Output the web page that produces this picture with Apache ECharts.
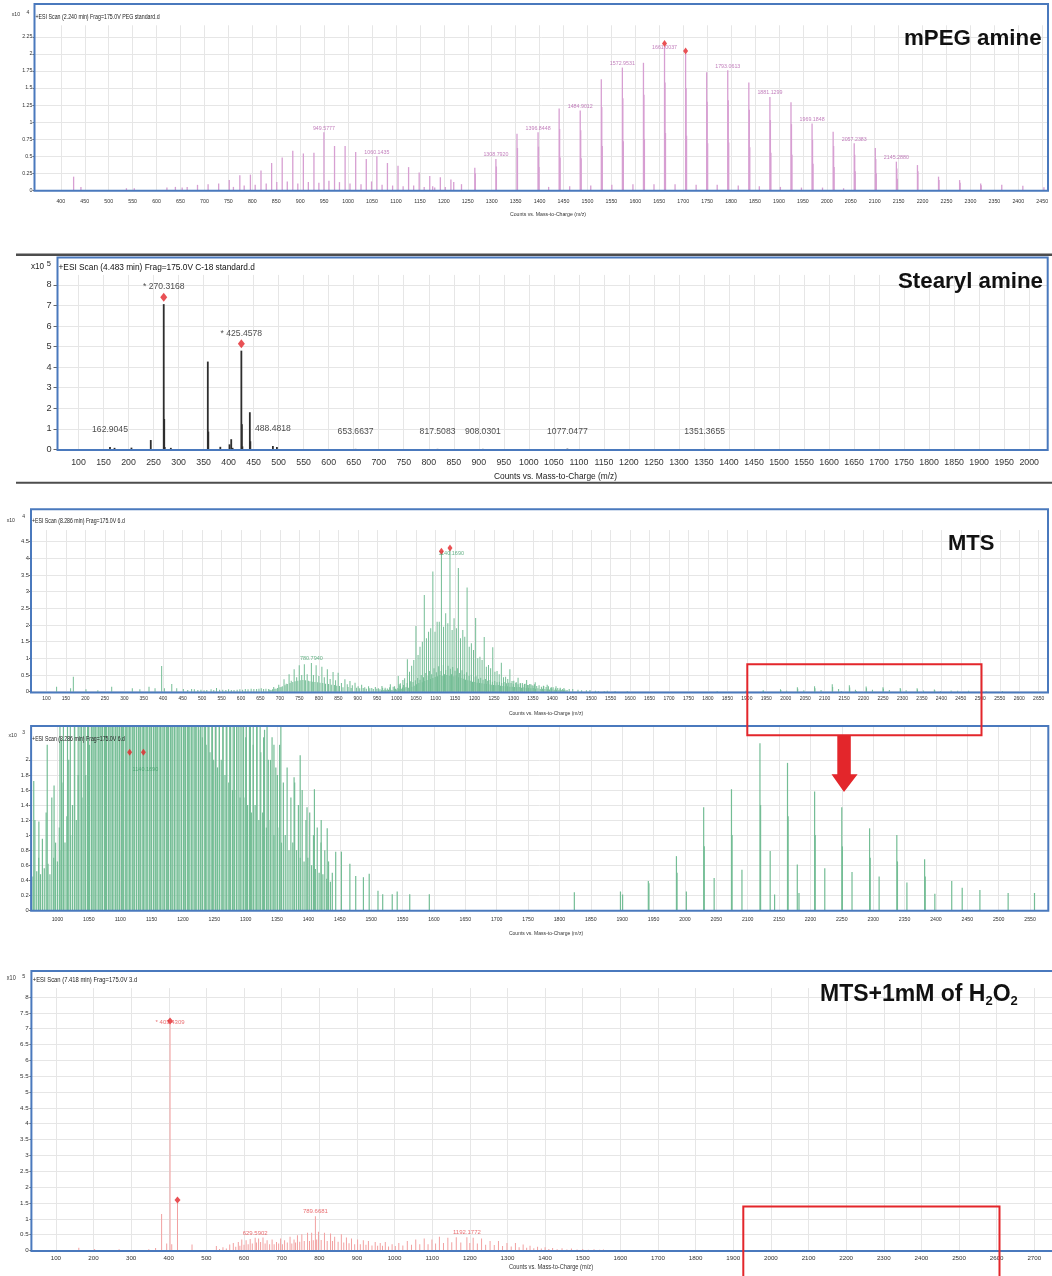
<!DOCTYPE html>
<html>
<head>
<meta charset="utf-8">
<script src="https://cdn.jsdelivr.net/npm/echarts@6.0.0/dist/echarts.min.js"></script>
<style>
html,body{margin:0;padding:0;background:#ffffff;}
#chart{width:1052px;height:1276px;}
</style>
</head>
<body>
<div id="chart"></div>
<script>
/* ===================== DATA ===================== */
/* ---- Panel 1 : mPEG amine (counts) ---- */
const p1XTicks = [400,450,500,550,600,650,700,750,800,850,900,950,1000,1050,1100,1150,1200,1250,1300,1350,1400,1450,1500,1550,1600,1650,1700,1750,1800,1850,1900,1950,2000,2050,2100,2150,2200,2250,2300,2350,2400,2450];
const p1YTicks = [0,0.25,0.5,0.75,1,1.25,1.5,1.75,2,2.25];
const p1Doubly = [[426.7,2000],[442.0,500],[537.0,300],[553.4,300],[621.6,400],[639.3,500],[653.4,400],[663.9,500],[685.5,800],[707.6,900],[729.7,1000],[751.8,1500],[773.9,2200],[796.0,2300],[818.1,2900],[840.3,4000],[862.4,4800],[884.5,5800],[906.6,5400],[928.7,5500],[949.58,8500],[971.7,6500],[993.8,6500],[1015.9,5600],[1038.0,4600],[1060.14,5000],[1082.2,4000],[1104.3,3600],[1126.4,3400],[1148.5,2600],[1170.6,2100],[1192.7,1900],[1214.8,1600],[1236.9,900]];
const p1Minor = [[760.5,500],[783.0,700],[806.0,800],[829.0,1000],[851.0,1200],[873.0,1300],[895.0,1000],[917.0,1200],[939.0,1100],[960.0,1400],[982.0,1200],[1004.0,1000],[1027.0,900],[1049.0,1300],[1071.0,800],[1093.0,700],[1115.0,600],[1137.0,700],[1159.0,500],[1181.0,400],[1203.0,500],[1418.9,500],[1462.9,600],[1506.9,700],[1550.9,800],[1595.0,900],[1639.0,900],[1683.0,900],[1727.0,800],[1771.0,800],[1815.0,700],[1859.0,600],[1903.0,500],[1947.0,400],[1991.0,400],[2035.0,300]];
const p1Singly = [[1176.7,600],[1220.7,1200],[1264.74,3300],[1308.79,4600],[1352.82,8300],[1396.84,8500],[1440.87,12000],[1484.90,11700],[1528.93,16300],[1572.95,18000],[1616.98,18700],[1661.00,21100],[1705.03,20000],[1749.06,17300],[1793.06,17600],[1837.10,15800],[1881.13,13700],[1925.16,12900],[1969.18,9800],[2013.21,8600],[2057.24,6900],[2101.26,6200],[2145.29,4200],[2189.31,3700],[2233.34,2000],[2277.37,1500],[2321.39,1000],[2365.42,800],[2409.45,650],[2453.47,450]];
const p1Iso1 = [[1265.74,2500],[1309.79,3500],[1353.82,6200],[1397.84,6400],[1441.87,9000],[1485.90,8800],[1529.93,12200],[1573.95,13500],[1617.98,14000],[1662.00,15800],[1706.03,15000],[1750.06,13000],[1794.06,13200],[1838.10,11800],[1882.13,10300],[1926.16,9700],[1970.18,7400],[2014.21,6500],[2058.24,5200],[2102.26,4600],[2146.29,3200],[2190.31,2800],[2234.34,1500],[2278.37,1100],[2322.39,750]];
const p1Iso2 = [[1398.84,3400],[1442.87,4800],[1486.90,4700],[1530.93,6500],[1574.95,7200],[1618.98,7500],[1663.00,8400],[1707.03,8000],[1751.06,6900],[1795.06,7000],[1839.10,6300],[1883.13,5500],[1927.16,5200],[1971.18,3900],[2015.21,3400],[2059.24,2800],[2103.26,2500],[2147.29,1700]];
const p1Labels = [[949.5777,8500,'949.5777'],[1060.1435,5000,'1060.1435'],[1308.7920,4600,'1308.7920'],[1396.8448,8500,'1396.8448'],[1484.9012,11700,'1484.9012'],[1572.9531,18000,'1572.9531'],[1661.0037,21100,'1661.0037'],[1793.0613,17600,'1793.0613'],[1881.1299,13700,'1881.1299'],[1969.1848,9800,'1969.1848'],[2057.2383,6900,'2057.2383'],[2145.2880,4200,'2145.2880']];
const p1Marks = [[1661.0037,21100],[1705.03,20000]];

/* ---- Panel 2 : Stearyl amine (counts) ---- */
const p2XTicks = [100,150,200,250,300,350,400,450,500,550,600,650,700,750,800,850,900,950,1000,1050,1100,1150,1200,1250,1300,1350,1400,1450,1500,1550,1600,1650,1700,1750,1800,1850,1900,1950,2000];
const p2YTicks = [0,1,2,3,4,5,6,7,8];
const p2Peaks = [[162.9,12000],[172.0,8000],[205.8,9000],[244.4,46000],[270.32,706000],[271.32,148000],[272.3,12000],[284.5,8000],[358.4,427000],[359.4,87000],[383.4,13000],[401.8,25000],[405.2,50000],[408.0,8000],[425.46,480000],[426.46,123000],[427.5,15000],[442.4,181000],[443.4,40000],[488.48,17000],[496.5,12000],[653.66,3000],[817.51,3000],[908.03,3000],[1077.05,4000],[1351.37,3000]];
const p2Labels = [[270.3168,706000,'* 270.3168'],[425.4578,480000,'* 425.4578'],[162.9045,12000,'162.9045'],[488.4818,17000,'488.4818'],[653.6637,3000,'653.6637'],[817.5083,3000,'817.5083'],[908.0301,3000,'908.0301'],[1077.0477,4000,'1077.0477'],[1351.3655,3000,'1351.3655']];
const p2Marks = [[270.3168,706000],[425.4578,480000]];

/* ---- Panels 3 & 4 : MTS (same spectrum, two zoom levels; counts) ---- */
const p3XTicks = [100,150,200,250,300,350,400,450,500,550,600,650,700,750,800,850,900,950,1000,1050,1100,1150,1200,1250,1300,1350,1400,1450,1500,1550,1600,1650,1700,1750,1800,1850,1900,1950,2000,2050,2100,2150,2200,2250,2300,2350,2400,2450,2500,2550,2600,2650];
const p3YTicks = [0,0.5,1,1.5,2,2.5,3,3.5,4,4.5];
const p4XTicks = [1000,1050,1100,1150,1200,1250,1300,1350,1400,1450,1500,1550,1600,1650,1700,1750,1800,1850,1900,1950,2000,2050,2100,2150,2200,2250,2300,2350,2400,2450,2500,2550];
const p4YTicks = [0,0.2,0.4,0.6,0.8,1,1.2,1.4,1.6,1.8,2];
const mtsLow = [[126,1500],[162,1000],[169,4500],[201.5,700],[232,400],[267.6,1500],[320.6,1000],[340,700],[363.5,1500],[379,1000],[396,7700],[403,1000],[422,2300],[434.7,1000],[451.7,800],[463,500],[473,800],[480,700],[489,500],[497,600],[505,400],[512,500],[523,700],[530,500],[537,1100],[545,600],[553,600],[561,500],[568,700],[575,500],[582,500],[590,600],[597,700],[604,600],[611,800],[618,700],[626,900],[633,800],[640,800],[646,900],[652,1000],[658,800],[664,900]];
const mtsHump = [[671,800],[684,1400],[697,2100],[710.5,3700],[723.5,5200],[736.5,6700],[749.6,7900],[762.7,8200],[780.79,8600],[793,7900],[807.8,7500],[821.8,6700],[836.5,5900],[849.6,5700],[867,3700],[880,3200],[893,2700],[910,2100],[927.8,1600],[945.2,1400],[962.2,1720],[970.4,1180],[983.7,2200],[994.6,1660],[1006.4,2270]];
const mtsHumpMinor = [[677,500],[690,900],[703,1400],[716,2400],[729,3300],[743,4300],[756,5000],[770,5200],[786,5000],[800,4700],[814,4300],[829,3800],[843,3400],[858,2600],[873,2200],[886,1900],[901,1600],[918,1300],[936,1100],[953,1000],[862,1300],[875,1400],[883,1100],[897,1200],[905,1000],[914,1100],[922,900],[931,1000],[940,800],[949,900],[957,700]];
const mtsHumpFill = [[674,600],[681,700],[687,900],[694,1100],[700,1300],[706,1600],[713,1900],[719,2300],[726,2600],[733,2900],[739,3100],[746,3300],[752,3400],[759,3500],[766,3400],[773,3300],[777,3100],[783,3000],[790,2900],[797,2800],[803,2700],[810,2600],[817,2400],[825,2300],[832,2100],[840,2000],[846,1800],[853,1700]];
const mtsGrass = [[961,450],[964,1200],[967,520],[970,700],[973,480],[976,950],[979,560],[982,1300],[985,620],[988,480],[991,1500],[994,700],[997,900],[1000,650],
[1003,1100],[1006,800],[1009,1700],[1012,900],[1015,1250],[1018,2000],[1021,1000],[1024,1400],[1027,2600],[1030,1200],[1033,1800],[1036,3100],[1039,1500],
[1042,2900],[1045,1800],[1048,3400],[1051,2200],[1054,4100],[1057,2600],[1060,3600],[1063,5000],[1066,2800],[1069,4300],[1072,3200],[1075,5600],[1078,3500],[1081,4800],
[1084,6200],[1087,3800],[1090,5200],[1093,4100],[1096,7000],[1099,4400],[1102,5800],[1105,4600],[1108,7600],[1111,5000],[1114,6200],[1117,4800],[1120,8000],[1123,5200],
[1126,6500],[1129,5000],[1132,7800],[1135,4800],[1138,6900],[1141,5200],[1144,7400],[1147,4600],[1150,6300],[1153,4900],[1156,7000],[1159,4300],[1162,5600],[1165,4100],
[1168,6400],[1171,3900],[1174,5200],[1177,3600],[1180,5800],[1183,3400],[1186,4700],[1189,3300],[1192,5100],[1195,3000],[1198,4300],[1201,2900],[1204,4600],[1207,2700],
[1210,3900],[1213,2600],[1216,4200],[1219,2500],[1222,3600],[1225,2400],[1228,3800],[1231,2300],[1234,3300],[1237,2200],[1240,3500],[1243,2100],[1246,3000],[1249,2000],
[1252,3200],[1255,1900],[1258,2800],[1261,2000],[1264,3000],[1267,1800],[1270,2600],[1273,1700],[1276,2900],[1279,1600],[1282,2500],[1285,1600],[1288,2700],[1291,1500],
[1294,2600],[1297,1500],[1300,2300],[1303,1400],[1306,2700],[1309,1300],[1312,2200],[1315,1400],[1318,2500],[1321,1200],[1324,2100],[1327,1300],[1330,2400],[1333,1100],
[1336,2000],[1339,1200],[1342,2300],[1345,1000],[1348,1900],[1351,1100],[1354,2200],[1357,900],[1360,1700],[1363,1000],[1366,1900],[1369,800],[1372,1500],[1375,900],
[1378,1700],[1381,800],[1384,1400],[1387,700],[1390,1600],[1393,650],[1396,1200],[1399,700],[1402,1300],[1405,600],[1408,1000],[1411,550],[1414,1100],[1417,500],
[1420,900],[1423,480],[1426,800],[1429,420],[1432,650],[1435,380],[1438,500]];
const mtsThird = [[1009.5,2500],[1020.5,4000],[1033,6000],[1044,9500],[1055,11000],[1066,15000],[1076.5,16000],[1087.5,19000],[1098.5,18000],[1109.5,21000],[1120.5,19500],[1131.5,20500],[1142.5,18500],[1153.5,19000],[1164,16000],[1175,16500],[1186.5,13500],[1197.5,12500],[1208.5,10000],[1219.5,9500],[1230.5,7500],[1241.5,7000],[1252.5,6000],[1263.5,5200],[1274.5,4300],[1285.5,3800],[1296.5,3200],[1307.5,2800],[1317.5,2500],[1328.5,2300],[1339.5,2000],[1350.5,1800]];
const mtsSecond = [[1016,3500],[1038.5,7800],[1060,13500],[1082,18000],[1104,21000],[1126,23500],[1147.5,22000],[1170,18500],[1192,14500],[1214,10500],[1236,8000],[1258,6200],[1280,4500],[1301,3300],[1323,2600],[1345,2200]];
const mtsMajor = [[1004,4700],[1027.5,9700],[1049.5,19700],[1071,29000],[1093,36100],[1115,41700],[1137,42700],[1158.5,37100],[1181,31300],[1203,22100],[1225,16400],[1247,13300],[1269,8700],[1291,6700],[1312,4200],[1334,3500],[1356,2800]];
const mtsHigh = [[1377.1,1770],[1386.8,2060],[1397.7,1370],[1409.5,1610],[1420.3,1200],[1429.9,1090],[1443.4,780],[1452.5,780],[1466,620],[1475.3,455],[1487.6,440],[1496.8,485],[1510.8,260],[1518.3,215],[1533.5,215],[1541.4,250],[1561.4,215],[1592.6,215]];
const mtsTail = [[1823.7,240],[1897.2,250],[1900.6,210],[1941.6,390],[1942.6,360],[1986.4,720],[1987.4,500],[2002.2,250],[2029.8,1370],[2030.8,850],[2046.5,430],[2074.1,1610],[2075.1,1000],[2090.8,540],[2119.5,2220],[2120.5,1400],[2135.8,790],[2142.8,210],[2163.4,1960],[2164.4,1250],[2179,610],[2181.7,230],[2206.6,1580],[2207.6,1000],[2222.8,560],[2249.9,1370],[2250.9,850],[2266.2,510],[2294.2,1090],[2295.2,700],[2309.4,450],[2337.6,1000],[2338.6,650],[2353.7,370],[2381.9,680],[2382.9,450],[2398.2,220],[2425.1,390],[2441.8,300],[2470,270],[2515,230],[2557,230]];
const p3Labels = [[780.794,8600,'780.7940'],[1140.169,42700,'1140.1690']];
const p3Marks = [[1115,41700],[1137,42700]];
const p4Labels = [[1140.169,2100,'1140.1690']];
const p4Marks = [[1115,2100],[1137,2100]];

/* ---- Panel 5 : MTS + 1 mM H2O2 (counts) ---- */
const p5XTicks = [100,200,300,400,500,600,700,800,900,1000,1100,1200,1300,1400,1500,1600,1700,1800,1900,2000,2100,2200,2300,2400,2500,2600,2700];
const p5YTicks = [0,0.5,1,1.5,2,2.5,3,3.5,4,4.5,5,5.5,6,6.5,7,7.5,8];
const p5Major = [[161,9000],[203,5000],[268,4000],[347,4000],[365,8000],[381,115000],[394.5,22000],[403.43,715000],[407.9,20000],[423.2,150000],[461.8,19000]];
const p5Cluster = [[526.5,14000],[544,10000],[562,19000],[571.5,24000],[584.8,27000],[594,35000],[605.5,32000],[616.4,36000],[629.59,40000],[638.7,38000],[650.4,41000],[661.3,32000],[674.6,35000],[686.3,27000],[697.2,38000],[707.8,32000],[722.3,43000],[732.9,35000],[742,48000],[753.6,51000],[768.8,56000],[779.7,56000],[789.67,108000],[797.8,59000],[813.7,56000],[829.9,54000],[840.8,43000],[858.6,51000],[872.1,41000],[885.6,38000],[901.8,35000],[917,32000],[930.5,30000],[948.6,27000],[961.9,24000],[975.4,27000],[993.5,20000],[1011.3,24000],[1033.9,30000],[1056.3,35000],[1078.8,38000],[1099.3,35000],[1119.2,43000],[1141.6,40000],[1164,42000],[1192.18,42000],[1208.9,40000],[1231.2,38000],[1253.8,30000],[1276.1,30000],[1298.7,24000],[1321.2,24000],[1341.7,19000],[1360,15000],[1380,12000],[1400,10000],[1420,8000],[1445,7000],[1470,6000],[1500,5000],[1530,4000],[1555,3000]];
const p5Minor = [[535,5000],[553,6000],[578,12000],[589,15000],[600,18000],[611,20000],[622,22000],[633,25000],[644,27000],[656,22000],[668,20000],[680,20000],[692,22000],[702,20000],[715,25000],[727,22000],[737,25000],[748,28000],[760,30000],[774,30000],[784,32000],[793,35000],[805,33000],[821,30000],[835,30000],[850,28000],[865,25000],[879,23000],[894,20000],[909,20000],[924,18000],[940,16000],[955,15000],[968,15000],[984,13000],[1002,14000],[1022,16000],[1045,18000],[1067,20000],[1089,20000],[1109,22000],[1130,24000],[1152,26000],[1176,25000],[1200,24000],[1220,22000],[1242,18000],[1265,17000],[1287,14000],[1310,13000],[1331,10000],[1351,9000],[1370,7000],[1390,6000],[1410,5000],[1432,4000],[1458,3500],[1485,3000],[1515,2500],[1545,2000]];
const p5Labels = [[403.43,715000,'* 403.4309'],[629.5902,40000,'629.5902'],[789.6681,108000,'789.6681'],[1192.1772,42000,'1192.1772']];
const p5Marks = [[403.43,715000],[423.2,150000]];

/* ===================== STYLE / LAYOUT ===================== */
const FN = "'Liberation Sans Narrow','Arial Narrow','Liberation Sans',Arial,sans-serif";
const FB = "'Liberation Sans',Arial,Helvetica,sans-serif";
const BLUE = '#4a79bd', RED = '#e3262b', GRIDC = '#e6e6e6';

const P = [
  {grid:{left:34.5, top:25.3, width:1013.5, height:165}, xr:[345,2462], yMax:24200, unit:1e4, xt:p1XTicks, yt:p1YTicks, xfs:5.3, yfs:5.3, xm:8.5, ym:2, tl:2},
  {grid:{left:57.5, top:274.9, width:990.2, height:174.6}, xr:[58,2037], yMax:848000, unit:1e5, xt:p2XTicks, yt:p2YTicks, xfs:8.8, yfs:9.2, xm:8.5, ym:6, tl:4},
  {grid:{left:31, top:530.05, width:1017, height:161.65}, xr:[60.2,2674], yMax:48500, unit:1e4, xt:p3XTicks, yt:p3YTicks, xfs:5, yfs:5.8, xm:4.5, ym:2, tl:2},
  {grid:{left:31.1, top:726.1, width:1017.2, height:184.2}, xr:[958,2579], yMax:2449, unit:1e3, xt:p4XTicks, yt:p4YTicks, xfs:5.2, yfs:5.8, xm:6.5, ym:2.4, tl:2},
  {grid:{left:31.4, top:988.1, width:1020.6, height:262.4}, xr:[35,2747], yMax:828000, unit:1e5, xt:p5XTicks, yt:p5YTicks, xfs:6.2, yfs:6.2, xm:5, ym:2.7, tl:2}
];
const fmt = (v, u) => String(Math.round(v / u * 1000) / 1000);

const xAxis = P.map((p, i) => ({
  type:'value', gridIndex:i, min:p.xr[0], max:p.xr[1],
  axisLine:{show:false},
  axisTick:{show:false, customValues:p.xt},
  axisLabel:{customValues:p.xt, formatter:v => String(Math.round(v)), fontSize:p.xfs, fontFamily:FN, color:'#333', margin:p.xm},
  splitLine:{show:true, lineStyle:{color:GRIDC, width:1}}
}));
const yAxis = P.map((p, i) => {
  const cv = p.yt.map(t => Math.round(t * p.unit));
  return {
    type:'value', gridIndex:i, min:0, max:p.yMax,
    axisLine:{show:false},
    axisTick:{show:true, customValues:cv, length:p.tl, lineStyle:{color:'#666'}},
    axisLabel:{customValues:cv, formatter:v => fmt(v, p.unit), fontSize:p.yfs, fontFamily:FN, color:'#333', margin:p.ym},
    splitLine:{show:true, lineStyle:{color:GRIDC, width:1}}
  };
});

const series = [];
function bars(gi, data, color, w) {
  series.push({type:'bar', xAxisIndex:gi, yAxisIndex:gi, data:data, barWidth:w, clip:true,
    itemStyle:{color:color}, silent:true, animation:false, z:2});
}
function marks(gi, data, size, off) {
  series.push({type:'scatter', xAxisIndex:gi, yAxisIndex:gi, data:data, symbol:'diamond',
    symbolSize:size, symbolOffset:[0, off], itemStyle:{color:RED}, silent:true, animation:false, z:6});
}
function labels(gi, data, color, fs, dist, nudge) {
  series.push({type:'scatter', xAxisIndex:gi, yAxisIndex:gi, symbolSize:1,
    itemStyle:{color:'rgba(0,0,0,0)'}, silent:true, animation:false, z:5,
    data:data.map(d => ({value:[d[0], d[1]], name:d[2], label:{offset:(nudge[d[2]] || [0, 0])}})),
    label:{show:true, position:'top', distance:dist, formatter:q => q.name, color:color, fontSize:fs, fontFamily:FN}});
}

// panel 1
bars(0, [].concat(p1Minor, p1Doubly, p1Iso2, p1Iso1, p1Singly), '#d79fd2', 1.3);
labels(0, p1Labels, '#b35fab', 5.3, 1, {'1661.0037':[0, 5]});
marks(0, p1Marks, [5, 7], -3);
// panel 2
bars(1, p2Peaks, '#2e2e2e', 1.8);
labels(1, p2Labels, '#1a1a1a', 8.6, 12.5, {});
marks(1, p2Marks, [7, 9], -7);
// panels 3 & 4
const mtsAll = [].concat(mtsLow, mtsHumpFill, mtsHumpMinor, mtsHump, mtsGrass, mtsThird, mtsSecond, mtsMajor, mtsHigh, mtsTail);
bars(2, mtsAll, '#74bd95', 1);
labels(2, p3Labels, '#3f9f68', 5.5, 1, {'1140.1690':[0, 9]});
marks(2, p3Marks, [5, 7], -1.5);
bars(3, mtsAll, '#74bd95', 1.2);
labels(3, p4Labels, '#3f9f68', 5.5, 1, {'1140.1690':[0, 22]});
marks(3, p4Marks, [5, 7], 0);
// panel 5
bars(4, [].concat(p5Minor, p5Cluster, p5Major), '#f2a0a0', 1);
labels(4, p5Labels, '#e34a4e', 6, 1, {'* 403.4309':[0, 3.3]});
marks(4, p5Marks, [6, 7], -3);

/* ---- decorations: boxes, headers, titles ---- */
function txt(x, y, text, font, fill, align, sx) {
  return {type:'text', x:x, y:y, scaleX:(sx || 1), scaleY:1, originX:0, originY:0, silent:true, z:60,
    style:{text:text, font:font, fill:fill || '#222', align:align || 'left', verticalAlign:'middle'}};
}
function box(x, y, w, h, color, lw) {
  return {type:'rect', silent:true, z:50, shape:{x:x, y:y, width:w, height:h},
    style:{fill:'none', stroke:color, lineWidth:lw}};
}
const AXT = 'Counts vs. Mass-to-Charge (m/z)';
const graphic = [
  {type:'line', silent:true, z:50, shape:{x1:16, y1:254.7, x2:1052, y2:254.7}, style:{stroke:'#4d4d4d', lineWidth:2.5}},
  {type:'line', silent:true, z:50, shape:{x1:16, y1:482.7, x2:1052, y2:482.7}, style:{stroke:'#4d4d4d', lineWidth:2}},
  box(34.5, 4, 1013.5, 186.8, BLUE, 2),
  box(57.5, 257.4, 990.2, 192.6, BLUE, 2),
  box(31, 509.3, 1017, 183.2, BLUE, 2),
  box(31.1, 726.1, 1017.2, 184.7, BLUE, 2),
  box(31.4, 971.1, 1030, 279.9, BLUE, 2),
  // panel 1
  txt(11.8, 14.5, 'x10', '6px ' + FN, '#333', 'left', 0.85), txt(26.4, 12.2, '4', '5px ' + FN, '#333'),
  txt(35.5, 17.6, '+ESI Scan (2.240 min) Frag=175.0V PEG standard.d', '6.5px ' + FN, '#222', 'left', 0.81),
  txt(904, 39, 'mPEG amine', 'bold 22.3px ' + FB, '#111'),
  txt(548, 214.5, AXT, '6px ' + FN, '#333', 'center', 0.86),
  // panel 2
  txt(31, 267, 'x10', '9px ' + FN, '#222', 'left', 0.9), txt(46.8, 264.3, '5', '7.5px ' + FN, '#222'),
  txt(58.5, 267.6, '+ESI Scan (4.483 min) Frag=175.0V C-18 standard.d', '9.5px ' + FN, '#111', 'left', 0.875),
  txt(898, 282, 'Stearyl amine', 'bold 22.3px ' + FB, '#111'),
  txt(555.5, 476.7, AXT, '9.5px ' + FN, '#222', 'center', 0.88),
  // panel 3
  txt(6.7, 520, 'x10', '6px ' + FN, '#333', 'left', 0.85), txt(22.3, 516.7, '4', '5px ' + FN, '#333'),
  txt(32, 521.7, '+ESI Scan (8.286 min) Frag=175.0V 6.d', '6.5px ' + FN, '#222', 'left', 0.8),
  txt(948, 543.8, 'MTS', 'bold 22px ' + FB, '#111'),
  txt(546, 713.5, AXT, '6px ' + FN, '#333', 'center', 0.84),
  // panel 4
  txt(8.5, 735.2, 'x10', '6px ' + FN, '#333', 'left', 0.85), txt(22.3, 732.2, '3', '5px ' + FN, '#333'),
  txt(32.1, 739.6, '+ESI Scan (8.286 min) Frag=175.0V 6.d', '6.5px ' + FN, '#222', 'left', 0.8),
  txt(546, 933.5, AXT, '6px ' + FN, '#333', 'center', 0.84),
  // panel 5
  txt(6.8, 978.5, 'x10', '6.5px ' + FN, '#333', 'left', 0.85), txt(22.3, 976.2, '5', '5.5px ' + FN, '#333'),
  txt(32.8, 980.2, '+ESI Scan (7.418 min) Frag=175.0V 3.d', '6.5px ' + FN, '#222', 'left', 0.9),
  {type:'text', x:820, y:995, silent:true, z:60, style:{
    text:'{n|MTS+1mM of H}{s|2}{n|O}{s|2}', fill:'#111', align:'left', verticalAlign:'middle',
    rich:{n:{fontSize:23, fontWeight:'bold', fontFamily:FB, lineHeight:25, fill:'#111'},
          s:{fontSize:13, fontWeight:'bold', fontFamily:FB, lineHeight:12.5, verticalAlign:'bottom', fill:'#111'}}}},
  txt(551, 1267.5, AXT, '6.5px ' + FN, '#333', 'center', 0.88),
  // red highlight boxes and arrow
  box(747.3, 664.3, 234.2, 71, RED, 2),
  {type:'polygon', silent:true, z:70, shape:{points:[[837.3,735.3],[850.8,735.3],[850.8,774.3],[857.6,774.3],[844,792],[831.5,774.3],[837.3,774.3]]}, style:{fill:RED}},
  box(743.3, 1206.6, 256.2, 100, RED, 2)
];

const chart = echarts.init(document.getElementById('chart'), null, {renderer:'canvas', width:1052, height:1276});
chart.setOption({
  backgroundColor:'#ffffff',
  animation:false,
  grid:P.map(p => Object.assign({containLabel:false}, p.grid)),
  xAxis:xAxis,
  yAxis:yAxis,
  series:series,
  graphic:graphic
});
</script>
</body>
</html>
